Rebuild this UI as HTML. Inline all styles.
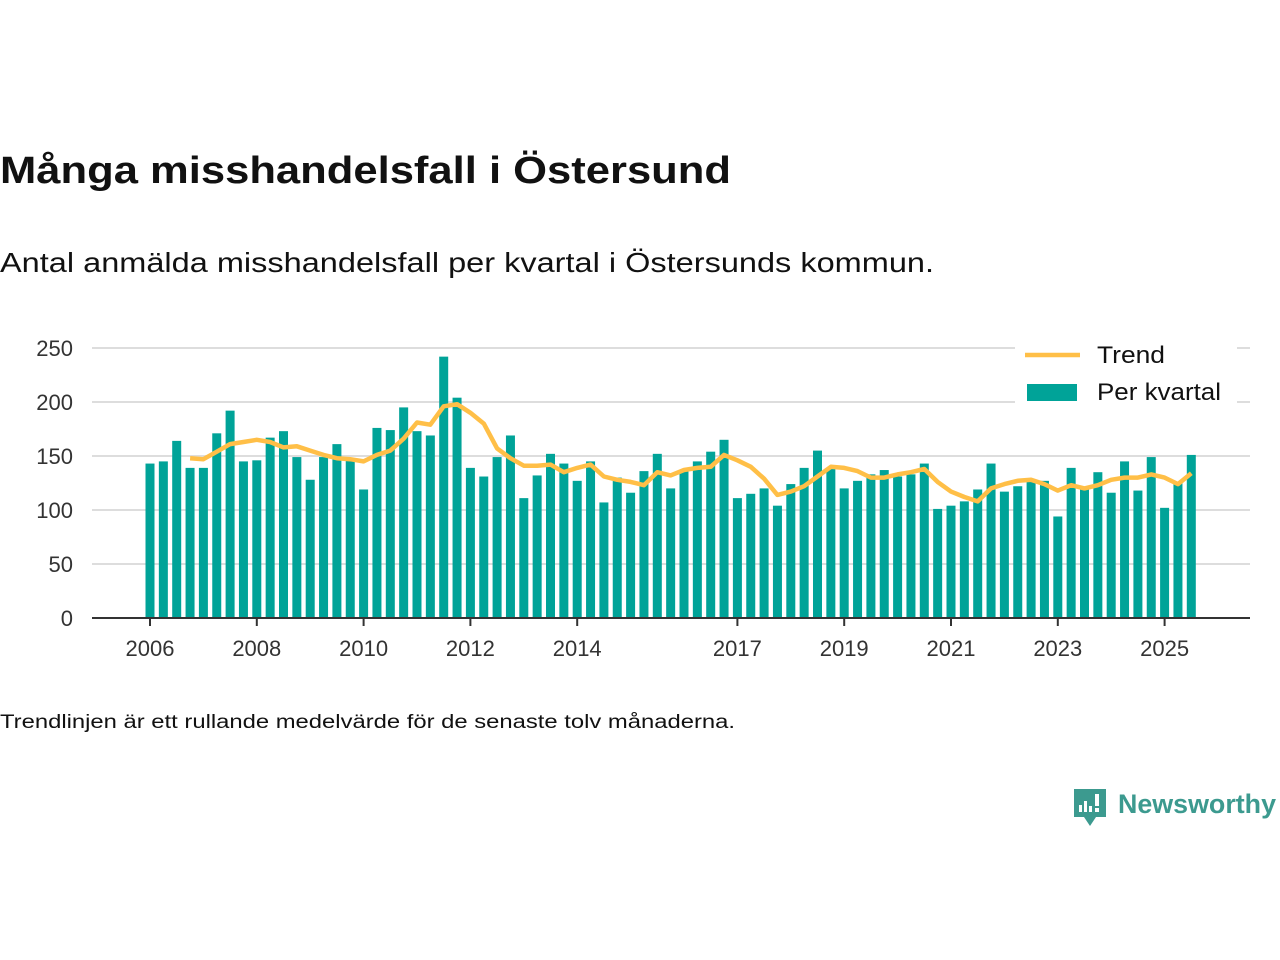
<!DOCTYPE html>
<html><head><meta charset="utf-8">
<style>
html,body{margin:0;padding:0;background:#fff;}
svg{display:block;font-family:"Liberation Sans","DejaVu Sans",sans-serif;}
</style></head>
<body>
<svg id="chart" width="1280" height="960" viewBox="0 0 1280 960">
  <text x="0" y="183" font-size="38" font-weight="bold" fill="#111" textLength="731" lengthAdjust="spacingAndGlyphs">Många misshandelsfall i Östersund</text>
  <text x="0" y="272" font-size="28" fill="#111" textLength="934" lengthAdjust="spacingAndGlyphs">Antal anmälda misshandelsfall per kvartal i Östersunds kommun.</text>
  <g id="grid"></g>
  <g id="bars"></g>
  <polyline id="trend" fill="none" stroke="#ffbf47" stroke-width="4.5" stroke-linejoin="round"></polyline>
  <g id="xaxis"></g>
  <g id="yaxis"></g>
  <g>
    <rect x="1015" y="335" width="222" height="70" fill="#fff"/>
    <line x1="1025" y1="355" x2="1080" y2="355" stroke="#ffbf47" stroke-width="4.5"/>
    <text x="1097" y="363" font-size="24" fill="#111" textLength="68" lengthAdjust="spacingAndGlyphs">Trend</text>
    <rect x="1027" y="384" width="50" height="17" fill="#00a398"/>
    <text x="1097" y="400" font-size="24" fill="#111" textLength="124" lengthAdjust="spacingAndGlyphs">Per kvartal</text>
  </g>
  <text x="0" y="728" font-size="19" fill="#111" textLength="735" lengthAdjust="spacingAndGlyphs">Trendlinjen är ett rullande medelvärde för de senaste tolv månaderna.</text>
  <g>
    <path d="M1074 789 h32 v28 h-10 l-6 9 l-6 -9 h-10 z" fill="#3c9a8f"/>
    <rect x="1079" y="805" width="3" height="7" fill="#fff"/>
    <rect x="1084" y="801" width="3" height="11" fill="#fff"/>
    <rect x="1089" y="806" width="3" height="6" fill="#fff"/>
    <rect x="1095" y="794" width="4" height="12" fill="#fff"/>
    <rect x="1095" y="808" width="4" height="4" fill="#fff"/>
    <text x="1118" y="813" font-size="27" font-weight="bold" fill="#3c9a8f" textLength="158" lengthAdjust="spacingAndGlyphs">Newsworthy</text>
  </g>
</svg>
<script>
const quarterValues = [143,145,164,139,139,171,192,145,146,167,173,149,128,149,161,146,119,176,174,195,173,169,242,204,139,131,149,
169,111,132,152,143,127,145,107,130,116,136,152,120,137,145,154,165,111,115,120,104,124,139,155,138,120,
127,133,137,131,133,143,101,104,108,119,143,117,122,128,127,94,139,121,135,116,145,118,149,102,125,151];
const trendValues = [null,null,null,148,147,154,161,163,165,163,158,159,155,151,148,147,145,151,155,166,181,179,196,198,190,180,157,
148,141,141,142,135,139,142,131,128,126,123,135,132,137,139,140,151,146,140,129,114,117,122,131,140,139,
136,130,130,133,135,138,126,117,112,108,120,124,127,128,124,118,123,120,123,128,130,130,133,130,124,134];
const yTicks = [0,50,100,150,200,250];
const xTickYears = [2006,2008,2010,2012,2014,2017,2019,2021,2023,2025];
const startYear = 2006;

const NS = "http://www.w3.org/2000/svg";
const y = v => 618 - v * 1.08;
const x = yr => 150 + (yr - 2006) * 53.4;
function mk(tag, attrs, parent){const e=document.createElementNS(NS,tag);for(const k in attrs)e.setAttribute(k,attrs[k]);parent.appendChild(e);return e;}

const grid=document.getElementById('grid'), yax=document.getElementById('yaxis');
yTicks.forEach(t=>{
  if(t>0){const l=mk('line',{x1:92,x2:1250,y1:y(t),y2:y(t),stroke:'#dddddd','stroke-width':2},grid);
  
  }
  const tx=mk('text',{x:73,y:y(t)+8,'font-size':22,fill:'#333','text-anchor':'end'},yax);
  tx.textContent=t;
  
  
});
const bars=document.getElementById('bars');
quarterValues.forEach((v,i)=>{
  const cx=x(startYear+i/4);
  const r=mk('rect',{x:cx-4.5,y:y(v),width:9,height:y(0)-y(v),fill:'#00a398'},bars);
  
  
});
const pts=[];
trendValues.forEach((v,i)=>{if(v!==null)pts.push(x(startYear+i/4).toFixed(1)+','+y(v).toFixed(1));});
document.getElementById('trend').setAttribute('points',pts.join(' '));
const xax=document.getElementById('xaxis');
const al=mk('line',{x1:92,x2:1250,y1:618,y2:618,stroke:'#333','stroke-width':2},xax);


xTickYears.forEach(yr=>{
  const tk=mk('line',{x1:x(yr),x2:x(yr),y1:618,y2:626,stroke:'#333','stroke-width':2},xax);
  
  
  const tx=mk('text',{x:x(yr),y:656,'font-size':22,fill:'#333','text-anchor':'middle'},xax);
  tx.textContent=yr;
  
  
});
</script>
</body></html>
